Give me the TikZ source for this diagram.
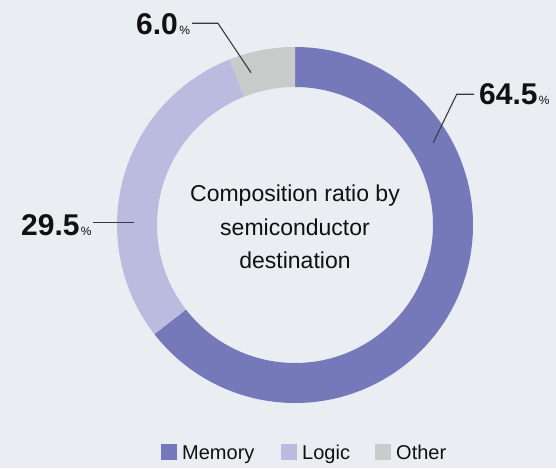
\documentclass[tikz,border=0pt]{standalone}
\usepackage{fontspec}
\setmainfont{Liberation Sans}
\definecolor{memc}{HTML}{7579BA}
\definecolor{logc}{HTML}{BBBBDF}
\definecolor{othc}{HTML}{C9CACA}
\definecolor{bgc}{HTML}{EAEEF3}
\definecolor{txtc}{HTML}{111111}
\definecolor{leadc}{HTML}{3A3A3A}
\tikzset{
  slice/.style={draw=none},
  bignum/.style={inner sep=0pt, anchor=base west, text=txtc, font=\fontsize{30}{30}\selectfont\bfseries},
  pct/.style={inner sep=0pt, anchor=base west, text=txtc, font=\fontsize{12}{12}\selectfont},
  leader/.style={draw=leadc, line width=1.1pt},
  legbox/.style={inner sep=0pt, minimum size=16pt, anchor=south west},
  legtext/.style={inner sep=0pt, anchor=base west, text=txtc, font=\fontsize{20}{20}\selectfont},
}
\begin{document}
\begin{tikzpicture}[x=1pt,y=-1pt]
\fill[bgc] (0,0) rectangle (556,468);
\useasboundingbox (0,0) rectangle (556,468);
% ring
\begin{scope}[shift={(295,225)}]
\fill[memc] (-90:178) arc[start angle=-90,end angle=142.2,radius=178] -- (142.2:138) arc[start angle=142.2,end angle=-90,radius=138] -- cycle;
\fill[logc] (142.2:178) arc[start angle=142.2,end angle=248.4,radius=178] -- (248.4:138) arc[start angle=248.4,end angle=142.2,radius=138] -- cycle;
\fill[othc] (248.4:178) arc[start angle=248.4,end angle=270,radius=178] -- (270:138) arc[start angle=270,end angle=248.4,radius=138] -- cycle;
\end{scope}
% centre text
\node[inner sep=0pt, align=center, text=txtc, font=\fontsize{23}{33.5}\selectfont] (title) at (295,227) {Composition ratio by\\semiconductor\\destination};
% labels
\node[bignum] (n6) at (136,35) {6.0};
\node[pct] (p6) at ([xshift=1pt]n6.base east) {\%};
\node[bignum] (n64) at (479,104) {64.5};
\node[pct] (p64) at ([xshift=1pt]n64.base east) {\%};
\node[bignum] (n29) at (21,235) {29.5};
\node[pct] (p29) at ([xshift=1pt]n29.base east) {\%};
% leader coordinates
\coordinate (e6) at (218,23.3);
\coordinate (t6) at (251,72.7);
\coordinate (e64) at (456.7,94.3);
\coordinate (t64) at (433.3,142.7);
\coordinate (t29) at (134,222.7);
\draw[leader] ([xshift=2pt]p6.east |- e6) -- (e6) -- (t6);
\draw[leader] ([xshift=-5pt]n64.west |- e64) -- (e64) -- (t64);
\draw[leader] ([xshift=1pt]p29.east |- t29) -- (t29);
% legend
\node[legbox, fill=memc] (lm) at (161,460) {};
\node[legtext] (lmt) at (182,459) {Memory};
\node[legbox, fill=logc] (ll) at (280.5,460) {};
\node[legtext] (llt) at (302,459) {Logic};
\node[legbox, fill=othc] (lo) at (374.5,460) {};
\node[legtext] (lot) at (396,459) {Other};
\end{tikzpicture}
\end{document}
